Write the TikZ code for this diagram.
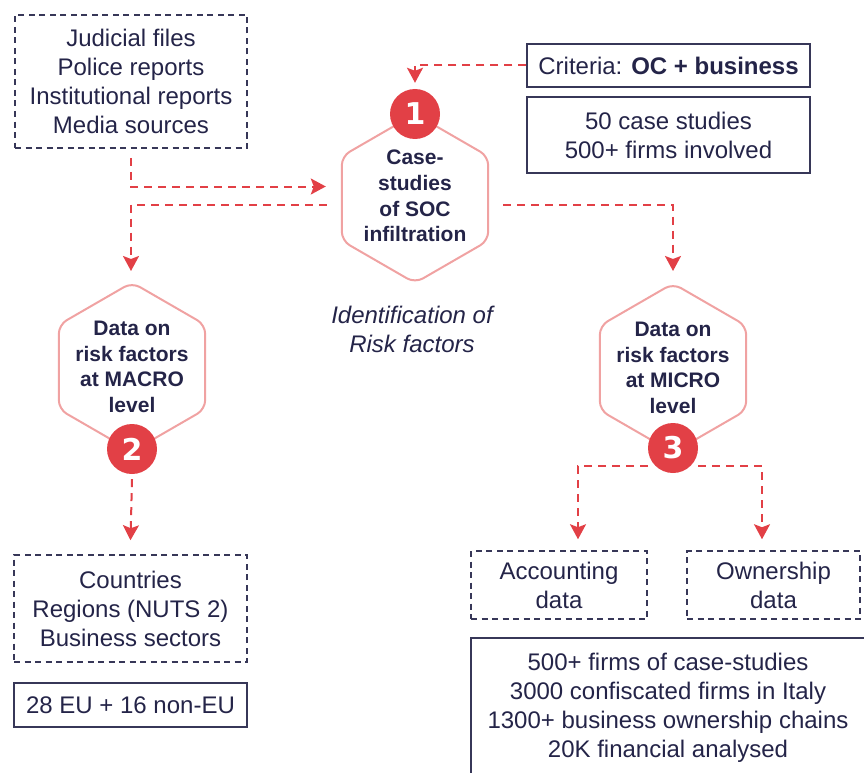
\documentclass[tikz,border=0pt]{standalone}
\usepackage{fontspec}
\setmainfont{Liberation Sans}
\newfontfamily\numfont{DejaVu Sans}
\usetikzlibrary{arrows.meta,shapes.geometric,calc}
\definecolor{navy}{RGB}{36,36,72}
\definecolor{boxline}{RGB}{55,55,88}
\definecolor{accent}{RGB}{226,64,70}
\definecolor{hexline}{RGB}{240,162,162}
\begin{document}
\begin{tikzpicture}[x=1pt,y=-1pt,
  txt/.style={font=\fontsize{24}{29}\selectfont, text=navy, align=center, inner sep=0pt},
  dbox/.style={txt, draw=boxline, line width=1.5pt, dash pattern=on 6pt off 4.5pt},
  sbox/.style={txt, draw=boxline, line width=1.5pt},
  hexa/.style={regular polygon, regular polygon sides=6, shape border rotate=90,
    minimum size=169pt, inner sep=0pt, draw=hexline, line width=2pt, rounded corners=9pt},
  hb/.style={font=\bfseries\fontsize{21}{25.7}\selectfont, text=navy, align=center},
  numc/.style={circle, fill=accent, minimum size=50pt, inner sep=0pt, text=white,
    font=\numfont\bfseries\fontsize{30}{30}\selectfont},
  flow/.style={draw=accent, line width=2pt, dash pattern=on 8pt off 6pt,
    -{Stealth[length=15pt,width=16pt,inset=3pt]}}
]
\useasboundingbox (0,0) rectangle (864,773);
\clip (0,0) rectangle (864,773);

% boxes
\node[dbox, minimum width=232pt, minimum height=133pt] (src) at (131,81.5)
  {Judicial files\\Police reports\\Institutional reports\\Media sources};
\node[sbox, minimum width=283pt, minimum height=43pt] (crit) at (668.5,65.5)
  {Criteria: \textbf{OC + business}};
\node[sbox, minimum width=283pt, minimum height=76pt] (cs) at (668.5,135)
  {50 case studies\\500+ firms involved};
\node[dbox, minimum width=233pt, minimum height=107pt] (cty) at (130.5,608.5)
  {Countries\\Regions (NUTS 2)\\Business sectors};
\node[sbox, minimum width=233pt, minimum height=44pt] (eu) at (130.5,705)
  {28 EU + 16 non-EU};
\node[dbox, minimum width=176pt, minimum height=68pt] (acc) at (559,585)
  {Accounting\\data};
\node[dbox, minimum width=173pt, minimum height=68pt] (own) at (773.5,585)
  {Ownership\\data};
\node[sbox, minimum width=394pt, minimum height=140pt] (big) at (668,708)
  {500+ firms of case-studies\\3000 confiscated firms in Italy\\1300+ business ownership chains\\20K financial analysed};

% hexagons
\node[hexa] (h1) at (415,198.5) {};
\node[hexa] (h2) at (132,367) {};
\node[hexa] (h3) at (673,368) {};
\node[hb] (h1t) at (415,196) {Case-\\studies\\of SOC\\infiltration};
\node[hb] (h2t) at (132,367) {Data on\\risk factors\\at MACRO\\level};
\node[hb] (h3t) at (673,368) {Data on\\risk factors\\at MICRO\\level};
\node[numc] (c1) at ($(h1.center)+(0,-84.5)$) {1};
\node[numc] (c2) at ($(h2.center)+(0,82)$) {2};
\node[numc] (c3) at ($(h3.center)+(0,80)$) {3};

\node[txt, font=\fontsize{24}{29}\selectfont\itshape] (idr) at (412,329.5)
  {Identification of\\Risk factors};

% connectors
\draw[flow] ($(src.south)+(0,9)$) |- ($(h1.west)+(-15,-12)$);
\draw[flow] ($(h1.west)+(-14,6)$) -| ($(h2.center)+(-1,-96)$);
\draw[flow] ($(h1.east)+(14,6)$) -| ($(h3.center)+(0,-97)$);
\draw[flow] (crit.west) -| ($(c1.north)+(0,-6)$);
\draw[flow] ($(c2.south)+(0,5)$) -- ($(cty.north)+(0,-14)$);
\draw[flow] ($(c3.center)+(-25,18)$) -| ($(acc.north)+(19,-11)$);
\draw[flow] ($(c3.center)+(25,18)$) -| ($(own.north)+(-11.5,-11)$);
\end{tikzpicture}
\end{document}
